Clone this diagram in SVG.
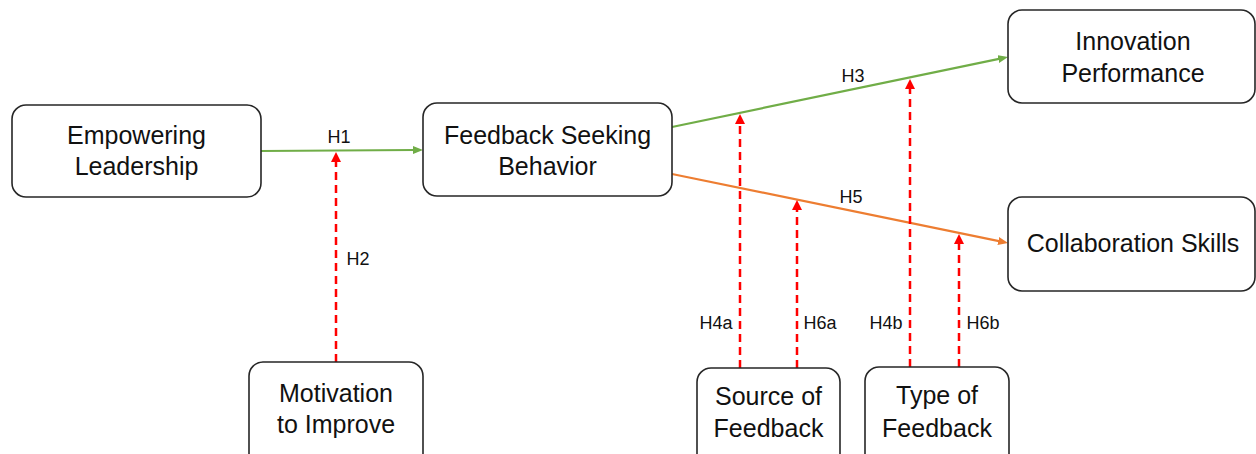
<svg xmlns="http://www.w3.org/2000/svg" width="1256" height="454" viewBox="0 0 1256 454">
<style>
.box{fill:#fff;stroke:#262626;stroke-width:1.6}
.t{font-family:"Liberation Sans",Arial,sans-serif;font-size:25px;fill:#111;text-anchor:middle}
.l{font-family:"Liberation Sans",Arial,sans-serif;font-size:18px;fill:#111;text-anchor:middle}
.g{stroke:#70AD47;stroke-width:2.2;fill:none}
.o{stroke:#ED7D31;stroke-width:2.2;fill:none}
.r{stroke:#FF0000;stroke-width:2.5;fill:none;stroke-dasharray:8 5}
</style>
<defs>
<marker id="ag" viewBox="0 0 10 8" refX="2" refY="4" markerWidth="10" markerHeight="8" markerUnits="userSpaceOnUse" orient="auto"><path d="M0,0 L10,4 L0,8 z" fill="#70AD47"/></marker>
<marker id="ao" viewBox="0 0 10 8" refX="2" refY="4" markerWidth="10" markerHeight="8" markerUnits="userSpaceOnUse" orient="auto"><path d="M0,0 L10,4 L0,8 z" fill="#ED7D31"/></marker>
<marker id="ar" viewBox="0 0 10 10" refX="2" refY="5" markerWidth="10" markerHeight="10" markerUnits="userSpaceOnUse" orient="auto"><path d="M0,0 L10,5 L0,10 z" fill="#FF0000"/></marker>
</defs>
<g id="connectors">
<line class="g" x1="261" y1="151" x2="415" y2="150" marker-end="url(#ag)"/>
<line class="g" x1="672" y1="127" x2="1000.2" y2="58.6" marker-end="url(#ag)"/>
<line class="o" x1="672" y1="174" x2="1000.2" y2="241.4" marker-end="url(#ao)"/>
<line class="r" x1="336" y1="362" x2="336" y2="160" marker-end="url(#ar)"/>
<line class="r" x1="740" y1="368" x2="740" y2="122" marker-end="url(#ar)"/>
<line class="r" x1="797" y1="368" x2="797" y2="208" marker-end="url(#ar)"/>
<line class="r" x1="910" y1="367" x2="910" y2="87" marker-end="url(#ar)"/>
<line class="r" x1="959" y1="367" x2="959" y2="242" marker-end="url(#ar)"/>
<text class="l" x="339" y="143">H1</text>
<text class="l" x="358" y="265">H2</text>
<text class="l" x="853" y="82">H3</text>
<text class="l" x="851" y="203">H5</text>
<text class="l" x="716" y="329">H4a</text>
<text class="l" x="820" y="329">H6a</text>
<text class="l" x="886" y="329">H4b</text>
<text class="l" x="983" y="329">H6b</text>
</g>
<g id="empowering-leadership">
<rect class="box" x="12" y="105" width="249" height="92" rx="14"/>
<text class="t" x="136.5" y="144">Empowering</text>
<text class="t" x="136.5" y="175">Leadership</text>
</g>
<g id="feedback-seeking-behavior">
<rect class="box" x="423" y="103" width="249" height="93" rx="14"/>
<text class="t" x="547.5" y="144">Feedback Seeking</text>
<text class="t" x="547.5" y="175">Behavior</text>
</g>
<g id="innovation-performance">
<rect class="box" x="1008" y="10" width="247" height="93" rx="14"/>
<text class="t" x="1133" y="50">Innovation</text>
<text class="t" x="1133" y="82">Performance</text>
</g>
<g id="collaboration-skills">
<rect class="box" x="1008" y="197" width="247" height="94" rx="14"/>
<text class="t" x="1133" y="252">Collaboration Skills</text>
</g>
<g id="motivation-to-improve">
<rect class="box" x="249" y="362" width="174" height="110" rx="14"/>
<text class="t" x="336" y="402">Motivation</text>
<text class="t" x="336" y="433">to Improve</text>
</g>
<g id="source-of-feedback">
<rect class="box" x="697" y="368" width="143" height="110" rx="14"/>
<text class="t" x="768.5" y="405">Source of</text>
<text class="t" x="768.5" y="437">Feedback</text>
</g>
<g id="type-of-feedback">
<rect class="box" x="865" y="367" width="144" height="110" rx="14"/>
<text class="t" x="937" y="404">Type of</text>
<text class="t" x="937" y="437">Feedback</text>
</g>
</svg>
